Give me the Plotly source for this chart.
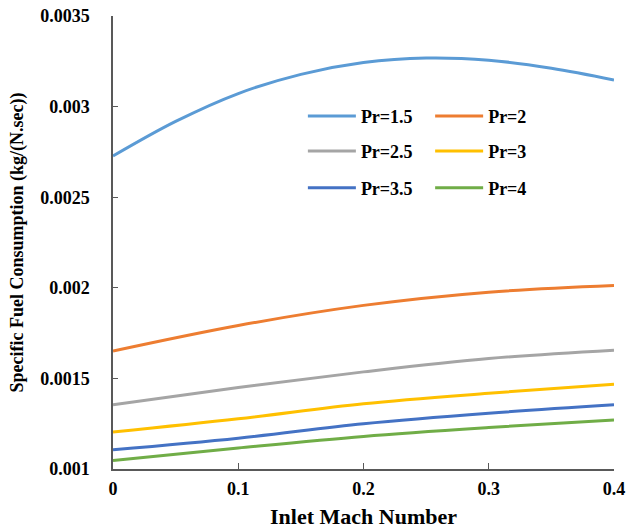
import plotly.graph_objects as go

# Inlet Mach number samples
mach_fine = [0, 0.05, 0.1, 0.15, 0.2, 0.25, 0.3, 0.35, 0.4]
mach = [0, 0.1, 0.2, 0.3, 0.4]

# Specific fuel consumption, kg/(N.sec), for each compressor pressure ratio
sfc_pr15 = [0.002727, 0.002918, 0.003072, 0.003178, 0.003243, 0.003268, 0.003256, 0.003212, 0.003147]
sfc_pr2 = [0.001651, 0.001792, 0.001903, 0.001976, 0.002013]
sfc_pr25 = [0.001355, 0.00145, 0.001536, 0.00161, 0.001656]
sfc_pr3 = [0.001204, 0.001277, 0.00136, 0.001418, 0.001468]
sfc_pr35 = [0.001106, 0.00117, 0.00125, 0.001308, 0.001354]
sfc_pr4 = [0.001047, 0.001116, 0.00118, 0.001229, 0.001271]

labels = ["Pr=1.5", "Pr=2", "Pr=2.5", "Pr=3", "Pr=3.5", "Pr=4"]
colors = ["#5B9BD5", "#ED7D31", "#A5A5A5", "#FFC000", "#4472C4", "#70AD47"]
xs = [mach_fine, mach, mach, mach, mach, mach]
ys = [sfc_pr15, sfc_pr2, sfc_pr25, sfc_pr3, sfc_pr35, sfc_pr4]

x_ticks = [0, 0.1, 0.2, 0.3, 0.4]
x_tick_text = ["0", "0.1", "0.2", "0.3", "0.4"]
y_ticks = [0.001, 0.0015, 0.002, 0.0025, 0.003, 0.0035]
y_tick_text = ["0.001", "0.0015", "0.002", "0.0025", "0.003", "0.0035"]

FONT = "Liberation Serif"
AXIS_COLOR = "#595959"

# legend slots: two columns, three rows
col_x = [0.379, 0.633]
row_y = [0.7788, 0.7015, 0.620]

fig = go.Figure()
layout_legends = {}
for i, (lab, col, x, y) in enumerate(zip(labels, colors, xs, ys)):
    key = "legend" if i == 0 else f"legend{i + 1}"
    fig.add_trace(go.Scatter(
        x=x, y=y, mode="lines", name=f"<b>{lab}</b>",
        line=dict(color=col, width=3, shape="spline", smoothing=1.0),
        legend=key,
    ))
    layout_legends[key] = dict(
        x=col_x[i % 2], y=row_y[i // 2], xanchor="left", yanchor="middle",
        bgcolor="rgba(0,0,0,0)", borderwidth=0, itemwidth=48,
        font=dict(family=FONT, size=18, color="#000000"),
    )

fig.update_layout(
    width=627, height=529,
    margin=dict(l=113, r=13, t=16, b=60),
    paper_bgcolor="white", plot_bgcolor="white",
    showlegend=True,
    **layout_legends,
)

fig.update_xaxes(
    range=[0, 0.4], tickvals=x_ticks,
    ticktext=[f"<b>{t}</b>" for t in x_tick_text],
    showgrid=False, zeroline=False, automargin=False,
    showline=True, linecolor=AXIS_COLOR, linewidth=1.5,
    ticks="inside", ticklen=6, tickcolor=AXIS_COLOR, ticklabelstandoff=3,
    tickfont=dict(family=FONT, size=18, color="#000000"),
    title=dict(text="<b>Inlet Mach Number</b>", standoff=14,
               font=dict(family=FONT, size=22, color="#000000")),
)
fig.update_yaxes(
    range=[0.001, 0.0035], tickvals=y_ticks,
    ticktext=[f"<b>{t}</b>" for t in y_tick_text],
    showgrid=False, zeroline=False, automargin=False,
    showline=True, linecolor=AXIS_COLOR, linewidth=1.5,
    ticks="inside", ticklen=5, tickcolor=AXIS_COLOR, ticklabelstandoff=18,
    tickfont=dict(family=FONT, size=18, color="#000000"),
    title=dict(text="<b>Specific Fuel Consumption (kg/(N.sec))</b>", standoff=12,
               font=dict(family=FONT, size=18, color="#000000")),
)

fig.write_html("out.html")
